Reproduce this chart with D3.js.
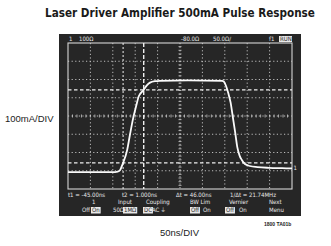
<!DOCTYPE html>
<html>
<head>
<meta charset="utf-8">
<script src="https://cdn.jsdelivr.net/npm/d3@7"></script>
<style>
  html, body { margin: 0; padding: 0; background: #fff; }
  svg { display: block; }
  .scope-text { font-family: "Liberation Sans Narrow", "DejaVu Sans Condensed", sans-serif; font-size: 6px; fill: #e8e8e8; }
  .label { font-family: "Liberation Sans", Arial, sans-serif; fill: #222; }
</style>
</head>
<body>
<div id="chart"></div>
<script>
// trace: time (ns) vs laser current (mA)
var traceTimeNs = [-168, -120, -80, -63, -57, -52, -49, -45, -36, -30, -23, -16, -10, 1, 8, 15, 26, 37,
                   100, 176, 180, 185, 190, 195, 200, 205, 210, 215, 220, 227, 238, 255, 280, 310, 332];
var traceCurrentMa = [0, 0, 0, 0, 2, 10, 25, 50, 120, 200, 290, 360, 415, 450, 475, 490, 498, 500,
                      502, 500, 495, 470, 430, 380, 300, 220, 135, 90, 66, 44, 33, 27, 23, 21, 20];

var cursorTimesNs = [-45, 1];        // t1, t2
var cursorLevelsMa = [50, 450];      // 10% / 90%
var timeWindowNs = [-168, 332];      // 10 div x 50ns
var currentWindowMa = [-93, 707];    // 8 div x 100mA

var topLabels = ["1", "100\u03A9", "-80.0\u03A9", "50.0\u03A9/", "f1"];
var readoutLabels = ["t1 = -45.00ns", "t2 = 1.000ns", "\u0394t = 46.00ns", "1/\u0394t = 21.74MHz"];
var menuLabels = ["1", "Input", "Coupling", "BW Lim", "Vernier", "Next"];

var W = 331, H = 246;
var scope = {x0: 59, y0: 34, x1: 301, y1: 216};
var grid = {x0: 68, y0: 43, x1: 292, y1: 189};

var svg = d3.select("#chart").append("svg")
    .attr("width", W)
    .attr("height", H);

svg.append("rect").attr("width", W).attr("height", H).attr("fill", "#fff");

// title - sized so it spans the same width as in the photo
var title = svg.append("text")
    .attr("x", 180).attr("y", 17)
    .attr("text-anchor", "middle")
    .style("font-family", "'Liberation Sans Narrow', 'DejaVu Sans Condensed', sans-serif")
    .style("font-weight", "bold")
    .style("font-size", "13px")
    .style("fill", "#1a1a1a")
    .text("Laser Driver Amplifier 500mA Pulse Response");
var tw = title.node().getComputedTextLength();
title.style("font-size", (13 * 270 / tw).toFixed(2) + "px");

// screen
svg.append("rect")
    .attr("x", scope.x0).attr("y", scope.y0)
    .attr("width", scope.x1 - scope.x0).attr("height", scope.y1 - scope.y0)
    .attr("fill", "#262626");

var x = d3.scaleLinear().domain(timeWindowNs).range([grid.x0, grid.x1]);
var y = d3.scaleLinear().domain(currentWindowMa).range([grid.y1, grid.y0]);
var xDiv = d3.scaleLinear().domain([0, 10]).range([grid.x0, grid.x1]);
var yDiv = d3.scaleLinear().domain([0, 8]).range([grid.y0, grid.y1]);

var g = svg.append("g");

// graticule
g.selectAll("line.vgrid")
    .data(d3.range(1, 10))
  .enter().append("line")
    .attr("class", "vgrid")
    .attr("x1", function(d) { return xDiv(d); })
    .attr("x2", function(d) { return xDiv(d); })
    .attr("y1", grid.y0).attr("y2", grid.y1)
    .attr("stroke", "#bdbdbd")
    .attr("stroke-width", 1)
    .attr("stroke-dasharray", "1.2,2.4");

g.selectAll("line.hgrid")
    .data(d3.range(1, 8))
  .enter().append("line")
    .attr("class", "hgrid")
    .attr("y1", function(d) { return yDiv(d); })
    .attr("y2", function(d) { return yDiv(d); })
    .attr("x1", grid.x0).attr("x2", grid.x1)
    .attr("stroke", "#bdbdbd")
    .attr("stroke-width", 1)
    .attr("stroke-dasharray", "1.2,2.4");

// minor ticks on the center axes
g.selectAll("line.hminor")
    .data(d3.range(1, 50))
  .enter().append("line")
    .attr("x1", function(d) { return xDiv(d / 5); })
    .attr("x2", function(d) { return xDiv(d / 5); })
    .attr("y1", yDiv(4) - 1.5).attr("y2", yDiv(4) + 1.5)
    .attr("stroke", "#cfcfcf")
    .attr("stroke-width", 0.8);

g.selectAll("line.vminor")
    .data(d3.range(1, 40))
  .enter().append("line")
    .attr("y1", function(d) { return yDiv(d / 5); })
    .attr("y2", function(d) { return yDiv(d / 5); })
    .attr("x1", xDiv(5) - 1.5).attr("x2", xDiv(5) + 1.5)
    .attr("stroke", "#cfcfcf")
    .attr("stroke-width", 0.8);

g.append("rect")
    .attr("x", grid.x0).attr("y", grid.y0)
    .attr("width", grid.x1 - grid.x0).attr("height", grid.y1 - grid.y0)
    .attr("fill", "none")
    .attr("stroke", "#d6d6d6")
    .attr("stroke-width", 1.1);

// cursors
g.selectAll("line.tcursor")
    .data(cursorTimesNs)
  .enter().append("line")
    .attr("x1", function(d) { return x(d); })
    .attr("x2", function(d) { return x(d); })
    .attr("y1", grid.y0).attr("y2", grid.y1)
    .attr("stroke", "#f0f0f0")
    .attr("stroke-width", function(d, i) { return i ? 1.4 : 1; })
    .attr("stroke-dasharray", function(d, i) { return i ? "4,2" : "2,2"; });

g.selectAll("line.vcursor")
    .data(cursorLevelsMa)
  .enter().append("line")
    .attr("y1", function(d) { return y(d); })
    .attr("y2", function(d) { return y(d); })
    .attr("x1", grid.x0).attr("x2", grid.x1)
    .attr("stroke", "#f0f0f0")
    .attr("stroke-width", 1.3)
    .attr("stroke-dasharray", "3.5,2.5");

// trace
var line = d3.line()
    .x(function(d) { return x(d[0]); })
    .y(function(d) { return y(d[1]); })
    .curve(d3.curveMonotoneX);

g.append("path")
    .datum(d3.zip(traceTimeNs, traceCurrentMa))
    .attr("d", line)
    .attr("fill", "none")
    .attr("stroke", "#fafafa")
    .attr("stroke-width", 1.8);

// channel ground marker on the right
g.append("text").attr("class", "scope-text")
    .attr("x", grid.x1 + 1.5).attr("y", y(20) + 2)
    .text("1");

// top status line
var topX = [69, 79, 181, 213, 269];
svg.selectAll("text.top")
    .data(topLabels)
  .enter().append("text")
    .attr("class", "scope-text")
    .attr("x", function(d, i) { return topX[i]; })
    .attr("y", 41)
    .text(String);

svg.append("rect").attr("x", 279).attr("y", 36).attr("width", 13).attr("height", 6).attr("fill", "#e8e8e8");
svg.append("text").attr("class", "scope-text")
    .attr("x", 280).attr("y", 41).style("fill", "#262626").text("RUN");

// readout lines
var readX = [68, 122, 176, 230];
svg.selectAll("text.readout")
    .data(readoutLabels)
  .enter().append("text")
    .attr("class", "scope-text")
    .attr("x", function(d, i) { return readX[i]; })
    .attr("y", 197)
    .text(String);

var menuX = [92, 118, 146, 190, 229, 269];
svg.selectAll("text.menu")
    .data(menuLabels)
  .enter().append("text")
    .attr("class", "scope-text")
    .attr("x", function(d, i) { return menuX[i]; })
    .attr("y", 204)
    .text(String);

// softkey states: plain text and highlighted boxes
var keys = [
  {t: "Off", x: 82, box: false}, {t: "On", x: 91, box: true},
  {t: "50\u03A9", x: 113, box: false}, {t: "1M\u03A9", x: 123, box: true},
  {t: "DC", x: 143, box: true}, {t: "AC \u23DA", x: 152, box: false},
  {t: "Off", x: 190, box: true}, {t: "On", x: 203, box: false},
  {t: "Off", x: 225, box: true}, {t: "On", x: 239, box: false},
  {t: "Menu", x: 269, box: false}
];
keys.forEach(function(k) {
  var t = svg.append("text").attr("class", "scope-text")
      .attr("x", k.x + (k.box ? 1 : 0)).attr("y", 212).text(k.t);
  if (k.box) {
    var w = t.node().getComputedTextLength() + 2;
    svg.insert("rect", function() { return t.node(); })
        .attr("x", k.x).attr("y", 207).attr("width", w).attr("height", 6.5)
        .attr("fill", "#e8e8e8");
    t.style("fill", "#262626");
  }
});

// axis captions
svg.append("text").attr("class", "label")
    .attr("x", 5).attr("y", 122)
    .style("font-size", "9.5px")
    .text("100mA/DIV");

svg.append("text").attr("class", "label")
    .attr("x", 160).attr("y", 236)
    .style("font-size", "9.5px")
    .text("50ns/DIV");

svg.append("text").attr("class", "label")
    .attr("x", 264).attr("y", 226)
    .style("font-size", "5px")
    .style("font-weight", "bold")
    .text("1800 TA01b");
</script>
</body>
</html>
